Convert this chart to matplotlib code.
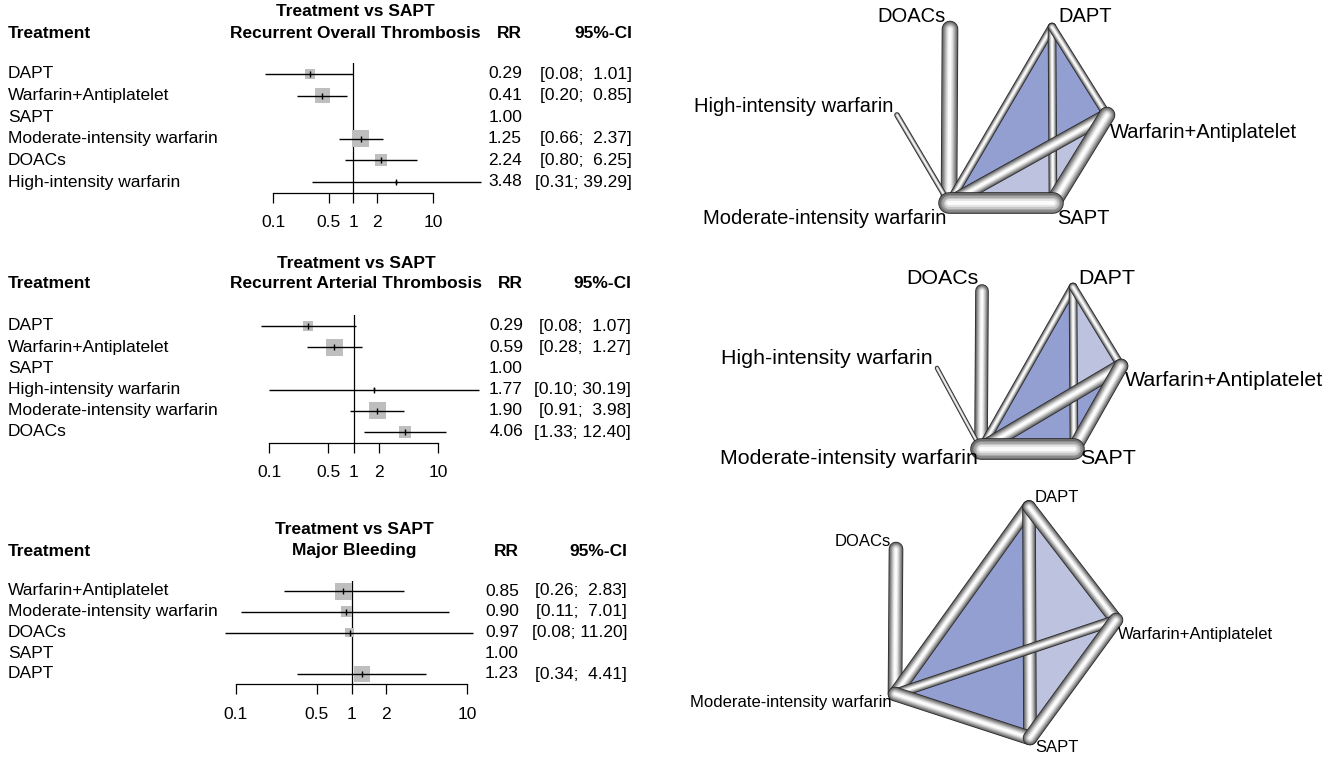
import numpy as np
import matplotlib
matplotlib.use("Agg")
import matplotlib.pyplot as plt
from matplotlib import transforms
from matplotlib.patches import Polygon
from matplotlib.ticker import NullLocator

plt.rcParams['font.family'] = ['Liberation Sans', 'DejaVu Sans']

W, H = 1325, 757
nan = np.nan

# ----------------------------
# Forest plot data (RR vs SAPT)
# ----------------------------
f1_names = ["DAPT", "Warfarin+Antiplatelet", "SAPT", "Moderate-intensity warfarin",
            "DOACs", "High-intensity warfarin"]
f1_rr = [0.29, 0.41, 1.00, 1.25, 2.24, 3.48]
f1_lo = [0.08, 0.20, nan, 0.66, 0.80, 0.31]
f1_hi = [1.01, 0.85, nan, 2.37, 6.25, 39.29]
f1_weight = [10, 15, 0, 17, 12, 3]

f2_names = ["DAPT", "Warfarin+Antiplatelet", "SAPT", "High-intensity warfarin",
            "Moderate-intensity warfarin", "DOACs"]
f2_rr = [0.29, 0.59, 1.00, 1.77, 1.90, 4.06]
f2_lo = [0.08, 0.28, nan, 0.10, 0.91, 1.33]
f2_hi = [1.07, 1.27, nan, 30.19, 3.98, 12.40]
f2_weight = [10, 17, 0, 3, 17, 12]

f3_names = ["Warfarin+Antiplatelet", "Moderate-intensity warfarin", "DOACs", "SAPT", "DAPT"]
f3_rr = [0.85, 0.90, 0.97, 1.00, 1.23]
f3_lo = [0.26, 0.11, 0.08, nan, 0.34]
f3_hi = [2.83, 7.01, 11.20, nan, 4.41]
f3_weight = [17, 11, 9, 0, 16]

ticks = [0.1, 0.5, 1, 2, 10]
tick_labels = ["0.1", "0.5", "1", "2", "10"]

# ----------------------------
# Network data
# ----------------------------
nodes = ["DOACs", "DAPT", "Warfarin+Antiplatelet", "SAPT",
         "Moderate-intensity warfarin", "High-intensity warfarin"]

# layout coordinates of the nodes
n1_x = [950, 1052, 1107, 1053, 949, 897]
n1_y = [29, 27, 115, 203, 203, 115]
e1_from = [0, 5, 1, 1, 1, 2, 2, 4]
e1_to = [4, 4, 4, 3, 2, 4, 3, 3]
e1_w = [15, 4, 7, 7, 7, 12, 15, 20]
m1_dark = [[1, 4, 2]]
m1_light = [[4, 3, 2]]

n2_x = [982, 1073, 1121, 1074, 981, 937]
n2_y = [291, 287, 366, 449, 449, 368]
e2_from = [0, 5, 1, 1, 1, 2, 2, 4]
e2_to = [4, 4, 4, 3, 2, 4, 3, 3]
e2_w = [12, 3, 7, 7, 7, 13, 13, 20]
m2_dark = [[1, 4, 3], [4, 2, 3]]
m2_light = [[1, 2, 3]]

n3_x = [896, 1029, 1116, 1030, 895, nan]
n3_y = [549, 507, 620, 738, 694, nan]
e3_from = [0, 1, 1, 1, 2, 4, 2]
e3_to = [4, 4, 3, 2, 4, 3, 3]
e3_w = [13, 12, 12, 12, 9, 13, 13]
m3_dark = [[1, 4, 3]]
m3_light = [[1, 2, 3]]

fig = plt.figure(figsize=(W / 100, H / 100), dpi=100)
px = transforms.Affine2D().scale(1 / W, -1 / H).translate(0, 1) + fig.transFigure

# ----------------------------
# Networks (drawn in a full-figure axes, pixel units)
# ----------------------------
axn = fig.add_axes([0, 0, 1, 1])
axn.set_xlim(0, W)
axn.set_ylim(H, 0)
axn.axis("off")

DARK = "#939fd0"
LIGHT = "#bdc2de"
# tube shading: outer grey -> white centre
layers = [(1.0, "#6c6c6c"), (0.85, "#8a8a8a"), (0.7, "#a8a8a8"),
          (0.55, "#c6c6c6"), (0.4, "#e2e2e2"), (0.22, "#fbfbfb")]


def network(xs, ys, e_from, e_to, e_w, dark, light, lab, fs):
    for tri in light:
        axn.add_patch(Polygon([(xs[k], ys[k]) for k in tri], closed=True,
                              fc=LIGHT, ec="none", zorder=1))
    for tri in dark:
        axn.add_patch(Polygon([(xs[k], ys[k]) for k in tri], closed=True,
                              fc=DARK, ec="none", zorder=1.1))
    for j, (a, b, w) in enumerate(zip(e_from, e_to, e_w)):
        z = 2 + j * 0.1
        axn.plot([xs[a], xs[b]], [ys[a], ys[b]], color="#262626",
                 lw=(w + 1.6) * 0.72, solid_capstyle="round", zorder=z)
        for i, (frac, col) in enumerate(layers):
            axn.plot([xs[a], xs[b]], [ys[a], ys[b]], color=col,
                     lw=max(w * frac, 0.7) * 0.72, solid_capstyle="round",
                     zorder=z + 0.01 * (i + 1))
    for k, (dx, dy, ha) in lab.items():
        axn.text(xs[k] + dx, ys[k] + dy, nodes[k], ha=ha, va="center",
                 fontsize=fs, zorder=10)


network(n1_x, n1_y, e1_from, e1_to, e1_w, m1_dark, m1_light,
        {0: (-4, -12, "right"), 1: (6, -10, "left"), 2: (3, 17, "left"),
         3: (4, 16, "left"), 4: (-3, 16, "right"), 5: (-4, -8, "right")}, 14.5)
network(n2_x, n2_y, e2_from, e2_to, e2_w, m2_dark, m2_light,
        {0: (-4, -12, "right"), 1: (5, -9, "left"), 2: (4, 14, "left"),
         3: (6, 10, "left"), 4: (-3, 10, "right"), 5: (-4, -9, "right")}, 15.4)
network(n3_x, n3_y, e3_from, e3_to, e3_w, m3_dark, m3_light,
        {0: (-5, -8, "right"), 1: (6, -9, "left"), 2: (2, 14, "left"),
         3: (5, 9, "left"), 4: (-3, 9, "right")}, 12)


# ----------------------------
# Forest plots
# ----------------------------
def forest(names, rr, lo, hi, weight, outcome, x_lo, x_hi, y0, dy, y_head,
           x_rr, x_ci, x_title):
    n = len(names)
    top = y0 - dy / 2
    bot = y0 + (n - 0.5) * dy
    ax = fig.add_axes([x_lo / W, 1 - bot / H, (x_hi - x_lo) / W, (bot - top) / H])
    ax.patch.set_visible(False)
    ax.set_xscale("log")
    ax.set_xlim(0.1, 10)
    ax.set_ylim(n - 0.5, -0.5)
    for s in ["top", "left", "right"]:
        ax.spines[s].set_visible(False)
    ax.spines["bottom"].set_linewidth(0.9)
    ax.set_yticks([])
    ax.set_xticks(ticks)
    ax.set_xticklabels(tick_labels)
    ax.xaxis.set_minor_locator(NullLocator())
    ax.tick_params(axis="x", direction="out", length=7.5, width=0.9, pad=8.5,
                   labelsize=12.5)
    ax.axvline(1, color="k", lw=0.9, zorder=1)

    rows = np.arange(n)
    rr = np.array(rr)
    lo = np.array(lo)
    hi = np.array(hi)
    has = ~np.isnan(lo)
    ax.scatter(rr[has], rows[has], s=(np.array(weight)[has] * 0.72) ** 2, marker="s",
               color="#bebebe", linewidths=0, zorder=2, clip_on=False)
    ax.hlines(rows[has], lo[has], hi[has], color="k", lw=1.0, zorder=3, clip_on=False)
    ax.plot(rr[has], rows[has], ls="none", marker="|", ms=4.5, mew=1.0, color="k",
            zorder=4, clip_on=False)

    blend = transforms.blended_transform_factory(px, ax.transData)
    for i in range(n):
        ax.text(8, i, names[i], transform=blend, ha="left", va="center", fontsize=12.5)
        ax.text(x_rr, i, f"{rr[i]:.2f}", transform=blend, ha="right", va="center",
                fontsize=12.5)
        if has[i]:
            ax.text(x_ci, i, f"[{lo[i]:.2f}; {hi[i]:5.2f}]", transform=blend,
                    ha="right", va="center", fontsize=12.5)

    fig.text(x_title, y_head - 21, "Treatment vs SAPT", transform=px, ha="center",
             va="center", fontsize=12.5, fontweight="bold")
    fig.text(x_title, y_head, outcome, transform=px, ha="center", va="center",
             fontsize=12.5, fontweight="bold")
    fig.text(8, y_head, "Treatment", transform=px, ha="left", va="center",
             fontsize=12.5, fontweight="bold")
    fig.text(x_rr, y_head, "RR", transform=px, ha="right", va="center",
             fontsize=12.5, fontweight="bold")
    fig.text(x_ci, y_head, "95%-CI", transform=px, ha="right", va="center",
             fontsize=12.5, fontweight="bold")


forest(f1_names, f1_rr, f1_lo, f1_hi, f1_weight, "Recurrent Overall Thrombosis",
       273, 433, 74, 21.6, 33, 522, 632, 355)
forest(f2_names, f2_rr, f2_lo, f2_hi, f2_weight, "Recurrent Arterial Thrombosis",
       269, 438, 326, 21.2, 284, 523, 631, 356)
forest(f3_names, f3_rr, f3_lo, f3_hi, f3_weight, "Major Bleeding",
       236, 467, 591, 20.75, 551, 519, 627, 354)

fig.savefig("out.png", dpi=100)
